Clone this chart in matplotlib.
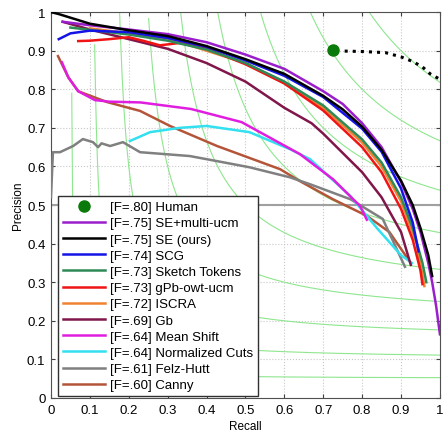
import numpy as np
import matplotlib.pyplot as plt

plt.rcParams['font.family'] = ['Liberation Sans', 'DejaVu Sans']

# iso-F contour levels
f_levels = [0.1, 0.2, 0.3, 0.4, 0.5, 0.6, 0.7, 0.8, 0.9]

# human agreement
human_r, human_p = 0.725, 0.903
human_tail_r = [0.755, 0.80, 0.86, 0.90, 0.93, 0.955, 0.975, 1.0]
human_tail_p = [0.899, 0.898, 0.895, 0.884, 0.872, 0.858, 0.840, 0.826]

# precision/recall curves
se_multi_r = [0.03, 0.1, 0.2, 0.3, 0.4, 0.5, 0.6, 0.7, 0.75, 0.8, 0.85, 0.9, 0.93, 0.95, 0.97, 0.98, 0.99, 1.0]
se_multi_p = [0.975, 0.966, 0.955, 0.943, 0.922, 0.89, 0.853, 0.795, 0.762, 0.712, 0.65, 0.56, 0.49, 0.43, 0.35, 0.30, 0.24, 0.165]

se_r = [0.0, 0.02, 0.1, 0.2, 0.3, 0.4, 0.5, 0.6, 0.7, 0.75, 0.8, 0.85, 0.9, 0.93, 0.95, 0.97, 0.98]
se_p = [1.0, 0.995, 0.97, 0.953, 0.938, 0.912, 0.878, 0.84, 0.783, 0.748, 0.703, 0.643, 0.563, 0.50, 0.44, 0.37, 0.316]

scg_r = [0.02, 0.05, 0.1, 0.2, 0.3, 0.4, 0.5, 0.6, 0.7, 0.8, 0.85, 0.9, 0.93, 0.945]
scg_p = [0.93, 0.945, 0.952, 0.948, 0.933, 0.91, 0.875, 0.835, 0.78, 0.698, 0.638, 0.543, 0.455, 0.38]

st_r = [0.05, 0.2, 0.3, 0.4, 0.5, 0.6, 0.7, 0.8, 0.85, 0.9, 0.93, 0.955, 0.965]
st_p = [0.96, 0.942, 0.926, 0.903, 0.868, 0.82, 0.758, 0.67, 0.61, 0.52, 0.44, 0.35, 0.30]

gpb_r = [0.07, 0.1, 0.15, 0.2, 0.24, 0.28, 0.33, 0.4, 0.5, 0.6, 0.7, 0.8, 0.85, 0.9, 0.93, 0.95, 0.955]
gpb_p = [0.925, 0.926, 0.93, 0.935, 0.925, 0.914, 0.92, 0.905, 0.865, 0.815, 0.745, 0.65, 0.585, 0.49, 0.41, 0.33, 0.295]

iscra_r = [0.1, 0.3, 0.5, 0.6, 0.7, 0.8, 0.85, 0.9, 0.94, 0.96]
iscra_p = [0.958, 0.932, 0.868, 0.818, 0.752, 0.662, 0.60, 0.51, 0.40, 0.29]

gb_r = [0.03, 0.1, 0.2, 0.3, 0.4, 0.5, 0.6, 0.67, 0.7, 0.8, 0.85, 0.9, 0.925]
gb_p = [0.975, 0.955, 0.93, 0.905, 0.868, 0.82, 0.752, 0.712, 0.685, 0.585, 0.52, 0.43, 0.345]

ms_r = [0.028, 0.045, 0.07, 0.113, 0.15, 0.23, 0.36, 0.49, 0.64, 0.725, 0.795, 0.812]
ms_p = [0.87, 0.83, 0.795, 0.772, 0.768, 0.766, 0.749, 0.715, 0.632, 0.567, 0.497, 0.462]

nc_r = [0.203, 0.255, 0.33, 0.40, 0.51, 0.614, 0.666, 0.77, 0.84, 0.90, 0.928]
nc_p = [0.666, 0.689, 0.700, 0.705, 0.689, 0.645, 0.619, 0.523, 0.438, 0.37, 0.35]

fh_r = [0.0, 0.005, 0.023, 0.057, 0.082, 0.108, 0.121, 0.13, 0.152, 0.185, 0.229, 0.255, 0.357, 0.442, 0.51, 0.614, 0.666, 0.77, 0.853, 0.91]
fh_p = [0.52, 0.637, 0.637, 0.653, 0.671, 0.663, 0.650, 0.660, 0.653, 0.663, 0.637, 0.635, 0.627, 0.611, 0.598, 0.572, 0.554, 0.515, 0.464, 0.34]

canny_r = [0.018, 0.044, 0.07, 0.144, 0.229, 0.306, 0.427, 0.589, 0.64, 0.725, 0.812, 0.87, 0.918]
canny_p = [0.886, 0.832, 0.795, 0.767, 0.744, 0.705, 0.653, 0.593, 0.562, 0.515, 0.472, 0.43, 0.36]

labels = ['[F=.75] SE+multi-ucm', '[F=.75] SE (ours)', '[F=.74] SCG', '[F=.73] Sketch Tokens',
          '[F=.73] gPb-owt-ucm', '[F=.72] ISCRA', '[F=.69] Gb', '[F=.64] Mean Shift',
          '[F=.64] Normalized Cuts', '[F=.61] Felz-Hutt', '[F=.60] Canny']
colors = ['#9A1ECC', '#000000', '#1414E6', '#2E8B57', '#F01414', '#F08232',
          '#80164A', '#E01EE0', '#32E0F0', '#808080', '#B4553A']
curves = [(se_multi_r, se_multi_p), (se_r, se_p), (scg_r, scg_p), (st_r, st_p),
          (gpb_r, gpb_p), (iscra_r, iscra_p), (gb_r, gb_p), (ms_r, ms_p),
          (nc_r, nc_p), (fh_r, fh_p), (canny_r, canny_p)]

fig = plt.figure(figsize=(4.43, 4.35), dpi=100)
ax = fig.add_axes([0.1151, 0.0828, 0.878, 0.887])

# iso-F curves
for f in f_levels:
    r = np.linspace(f / 2 + 0.001, 1, 400)
    p = f * r / (2 * r - f)
    ok = p <= 1.0
    ax.plot(r[ok], p[ok], color='#8EE68E', lw=0.8, zorder=1)

ax.axhline(0.5, color='#A0A0A0', lw=1.5, zorder=2)

handles = []
h_human, = ax.plot([human_r], [human_p], 'o', color='#0A7A0A', ms=8, zorder=5, label='[F=.80] Human')
ax.plot(human_tail_r, human_tail_p, ':', color='black', lw=2.2, zorder=5)
handles.append(h_human)

lines = []
for (r, p), c, lab in zip(curves, colors, labels):
    h, = ax.plot(r, p, color=c, lw=1.8, label=lab)
    lines.append(h)
# older methods underneath, newer on top
for i, h in enumerate(lines):
    h.set_zorder(4 - i * 0.1)
lines[1].set_zorder(4.5)
handles += lines

ax.set_xlim(0, 1)
ax.set_ylim(0, 1)
ticks = np.round(np.arange(0, 1.01, 0.1), 1)
tick_labels = ['0'] + [f'{t:g}' for t in ticks[1:-1]] + ['1']
ax.set_xticks(ticks)
ax.set_xticklabels(tick_labels)
ax.set_yticks(ticks)
ax.set_yticklabels(tick_labels)
ax.tick_params(direction='in', length=3, top=True, right=True, labelsize=9.5, pad=4, color='#404040')
ax.grid(True, color='#C8C8C8', linestyle=':', lw=0.8)
ax.set_axisbelow(True)
for s in ax.spines.values():
    s.set_color('#505050')
    s.set_linewidth(0.8)

ax.set_xlabel('Recall', fontsize=8.5, labelpad=3)
ax.set_ylabel('Precision', fontsize=8.5, labelpad=2)

leg = ax.legend(handles=handles, loc='lower left', bbox_to_anchor=(0.018, 0.005),
                borderaxespad=0, fontsize=9.5, handlelength=3.2,
                handletextpad=0.4, labelspacing=0.3, borderpad=0.35,
                fancybox=False, framealpha=1, edgecolor='#303030')
leg.get_frame().set_linewidth(1.0)
leg.set_zorder(10)

fig.savefig('out.png', dpi=100)
